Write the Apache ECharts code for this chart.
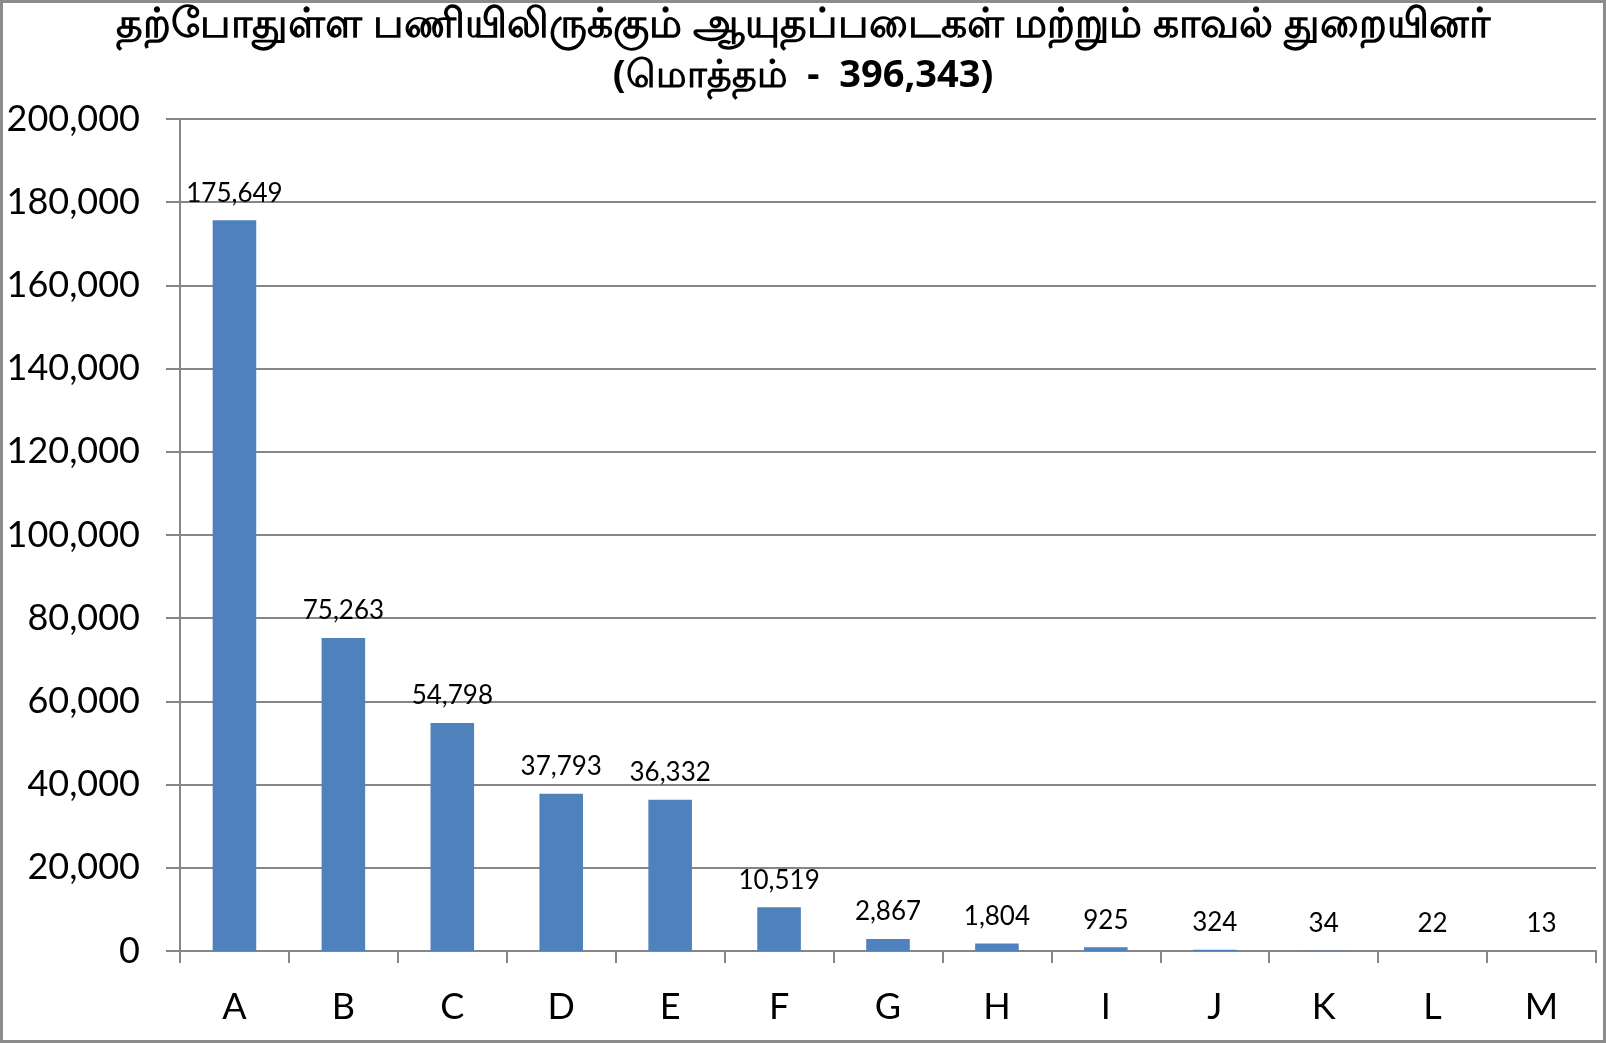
<!DOCTYPE html>
<html><head><meta charset="utf-8">
<script src="https://cdn.jsdelivr.net/npm/echarts@6/dist/echarts.min.js"></script>
<style>html,body{margin:0;padding:0;background:#fff}#c{width:1606px;height:1043px;box-sizing:border-box;border:3px solid #8c8c8c}</style>
</head><body><div id="c"></div>
<script>
const titleLine1 = "தற்போதுள்ள பணியிலிருக்கும் ஆயுதப்படைகள் மற்றும் காவல் துறையினர்";
const titleLine2 = "(மொத்தம்  -  396,343)";
const categories = ["A","B","C","D","E","F","G","H","I","J","K","L","M"];
const values = [175649,75263,54798,37793,36332,10519,2867,1804,925,324,34,22,13];
const yTicks = {min:0, max:200000, interval:20000};

function fmt(v){ return String(v).replace(/\B(?=(\d{3})+(?!\d))/g, ","); }

const ts = {fontFamily:'"Noto Sans", sans-serif', fontWeight:'bold', fontSize:41, color:'#000'};
const chart = echarts.init(document.getElementById('c'), null, {renderer:'canvas'});
chart.setOption({
  animation:false,
  title:[
    {text:titleLine1, left:'center', top:-3, padding:[5,0,5,20], textStyle:Object.assign({}, ts)},
    {text:titleLine2, left:'center', top:49, padding:[5,0,5,42], textStyle:Object.assign({}, ts, {fontSize:38})}
  ],
  grid:{left:177, right:7, top:116, bottom:89, containLabel:false},
  xAxis:{
    type:'category', data:categories,
    axisLine:{lineStyle:{color:'#868686', width:2}},
    axisTick:{show:true, length:12, lineStyle:{color:'#868686', width:2}},
    axisLabel:{fontFamily:'Lato', fontSize:36, color:'#000', margin:38}
  },
  yAxis:{
    type:'value', min:yTicks.min, max:yTicks.max, interval:yTicks.interval,
    axisLine:{show:true, lineStyle:{color:'#868686', width:2}},
    axisTick:{show:true, length:14, lineStyle:{color:'#868686', width:2}},
    splitLine:{lineStyle:{color:'#868686', width:2}},
    axisLabel:{fontFamily:'Lato', fontSize:36, color:'#000', margin:40, formatter:fmt}
  },
  series:[{
    type:'bar', data:values, barWidth:'40%',
    itemStyle:{color:'#4F81BD'},
    label:{show:true, position:'top', distance:14, fontFamily:'Lato', fontSize:26, color:'#000', formatter:p=>fmt(p.value)}
  }]
});
</script></body></html>
